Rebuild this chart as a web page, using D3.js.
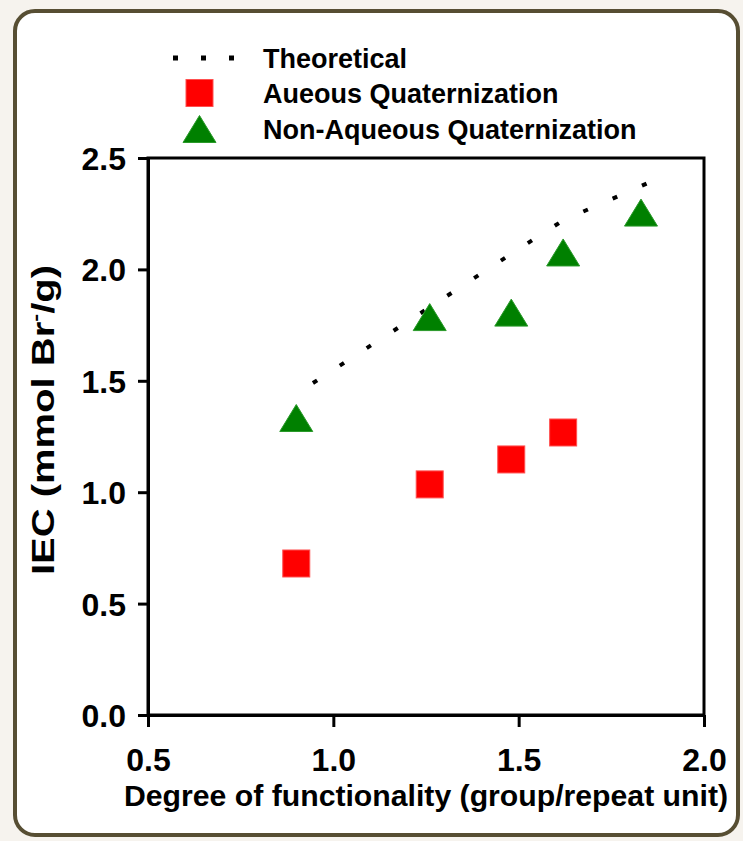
<!DOCTYPE html>
<html>
<head>
<meta charset="utf-8">
<script src="https://cdn.jsdelivr.net/npm/d3@7"></script>
<style>
  html, body { margin: 0; padding: 0; background: #f6f3ee; }
  svg { display: block; }
</style>
</head>
<body>
<div id="graph"></div>
<script>
// Data
const theoryDegree = [0.945, 1.26, 1.48, 1.62, 1.845];
const theoryIEC = [1.49, 1.83, 2.07, 2.22, 2.385];

const aqueousDegree = [0.9, 1.26, 1.48, 1.62];
const aqueousIEC = [0.68, 1.035, 1.147, 1.268];

const nonAqueousDegree = [0.9, 1.26, 1.48, 1.62, 1.83];
const nonAqueousIEC = [1.333, 1.786, 1.806, 2.076, 2.255];

const xTicks = [0.5, 1.0, 1.5, 2.0];
const yTicks = [0, 0.5, 1.0, 1.5, 2.0, 2.5];

const legendLabels = ["Theoretical", "Aueous Quaternization", "Non-Aqueous Quaternization"];

const W = 743, H = 841;
const font = "'Liberation Sans', Arial, Helvetica, sans-serif";
const plot = { left: 148, right: 704, top: 158, bottom: 715 };

const svg = d3.select("#graph")
  .append("svg")
  .attr("width", W)
  .attr("height", H)
  .style("font-family", font)
  .style("font-weight", "bold");

// Rounded frame
svg.append("rect")
  .attr("x", 15).attr("y", 11)
  .attr("width", 723).attr("height", 824)
  .attr("rx", 20).attr("ry", 20)
  .style("fill", "#ffffff")
  .style("stroke", "#574e33")
  .style("stroke-width", 4);

const x = d3.scaleLinear().domain([0.5, 2.0]).range([plot.left, plot.right]);
const y = d3.scaleLinear().domain([0, 2.5]).range([plot.bottom, plot.top]);

// Plot box (top and right edges)
svg.append("rect")
  .attr("x", plot.left).attr("y", plot.top)
  .attr("width", plot.right - plot.left)
  .attr("height", plot.bottom - plot.top)
  .style("fill", "none")
  .style("stroke", "#000")
  .style("stroke-width", 3);

// Axes
const xAxis = svg.append("g")
  .attr("transform", `translate(0,${plot.bottom})`)
  .call(d3.axisBottom(x).tickValues(xTicks).tickFormat(d3.format(".1f"))
    .tickSizeInner(12).tickSizeOuter(0).tickPadding(21));

const yAxis = svg.append("g")
  .attr("transform", `translate(${plot.left},0)`)
  .call(d3.axisLeft(y).tickValues(yTicks).tickFormat(d3.format(".1f"))
    .tickSizeInner(10).tickSizeOuter(0).tickPadding(12));

[xAxis, yAxis].forEach(g => {
  g.select(".domain").style("stroke", "#000").style("stroke-width", 3);
  g.selectAll(".tick line").style("stroke", "#000").style("stroke-width", 3);
  g.selectAll(".tick text")
    .style("font-family", font)
    .style("font-weight", "bold")
    .style("font-size", "32px")
    .style("fill", "#000");
});
yAxis.selectAll(".tick text").attr("dy", "0.36em");

// Axis titles
svg.append("text")
  .attr("x", 426)
  .attr("y", 806)
  .attr("text-anchor", "middle")
  .attr("textLength", 604)
  .attr("lengthAdjust", "spacingAndGlyphs")
  .style("font-size", "30px")
  .text("Degree of functionality (group/repeat unit)");

const yTitle = svg.append("text")
  .attr("transform", "translate(54,420) rotate(-90)")
  .attr("text-anchor", "middle")
  .attr("textLength", 310)
  .attr("lengthAdjust", "spacingAndGlyphs")
  .style("font-size", "32px");
yTitle.append("tspan").text("IEC (mmol Br");
yTitle.append("tspan").attr("dy", -12).style("font-size", "19px").text("-");
yTitle.append("tspan").attr("dy", 12).text("/g)");

// Theoretical curve: dotted, spacing tuned so a dot sits at both ends
const theory = theoryDegree.map((d, i) => [d, theoryIEC[i]]);
const theoryPath = svg.append("path")
  .datum(theory)
  .attr("d", d3.line().x(d => x(d[0])).y(d => y(d[1])))
  .style("fill", "none")
  .style("stroke", "#000")
  .style("stroke-width", 4);
const len = theoryPath.node().getTotalLength();
const nDots = Math.round((len - 5) / 33);
const period = (len - 5) / nDots;
theoryPath.style("stroke-dasharray", `5,${period - 5}`);

// Markers
const aqueous = aqueousDegree.map((d, i) => [d, aqueousIEC[i]]);
const nonAqueous = nonAqueousDegree.map((d, i) => [d, nonAqueousIEC[i]]);
const sq = 27;

svg.selectAll(".aq")
  .data(aqueous)
  .enter()
  .append("rect")
  .attr("class", "aq")
  .attr("x", d => x(d[0]) - sq / 2)
  .attr("y", d => y(d[1]) - sq / 2)
  .attr("width", sq)
  .attr("height", sq)
  .style("fill", "#ff0000")
  .style("stroke", "#ff5050")
  .style("stroke-width", 1);

const tri = (cx, cy) => `M${cx},${cy - 13.5}L${cx + 16.5},${cy + 13.5}L${cx - 16.5},${cy + 13.5}Z`;

svg.selectAll(".naq")
  .data(nonAqueous)
  .enter()
  .append("path")
  .attr("class", "naq")
  .attr("d", d => tri(x(d[0]), y(d[1])))
  .style("fill", "#008000")
  .style("stroke", "#2a9a2a")
  .style("stroke-width", 1);

// Legend
const legend = svg.append("g");
const legendY = [58, 93, 129];

legend.append("line")
  .attr("x1", 173).attr("x2", 236)
  .attr("y1", legendY[0]).attr("y2", legendY[0])
  .style("stroke", "#000")
  .style("stroke-width", 5)
  .style("stroke-dasharray", "5,23");

legend.append("rect")
  .attr("x", 199.5 - sq / 2).attr("y", legendY[1] - sq / 2)
  .attr("width", sq).attr("height", sq)
  .style("fill", "#ff0000")
  .style("stroke", "#ff5050")
  .style("stroke-width", 1);

legend.append("path")
  .attr("d", tri(199.5, legendY[2]))
  .style("fill", "#008000")
  .style("stroke", "#2a9a2a")
  .style("stroke-width", 1);

legend.selectAll(".lab")
  .data(legendLabels)
  .enter()
  .append("text")
  .attr("class", "lab")
  .attr("x", 263)
  .attr("y", (d, i) => legendY[i])
  .attr("dy", "0.36em")
  .style("font-size", "27px")
  .text(d => d);
</script>
</body>
</html>
